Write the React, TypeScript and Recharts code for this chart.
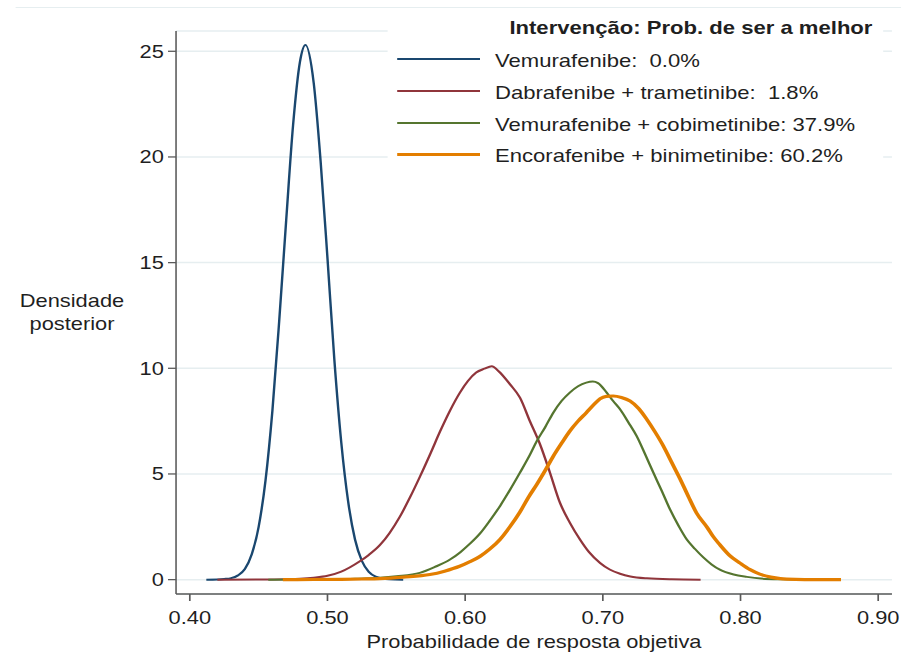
import { LineChart, Line, XAxis, YAxis, CartesianGrid, Legend } from "recharts";

// posterior density curves as [x, density]
const vemurafenibe = [
  [0.412, 0], [0.42, 0.01], [0.425, 0.03], [0.43, 0.07], [0.435, 0.2], [0.44, 0.5],
  [0.445, 1.2], [0.45, 2.5], [0.455, 4.7], [0.46, 8.0], [0.465, 12.3], [0.47, 17.0],
  [0.475, 21.5], [0.48, 24.5], [0.484, 25.3], [0.49, 23.5], [0.495, 19.8], [0.5, 15.2],
  [0.505, 10.4], [0.51, 6.5], [0.515, 3.7], [0.52, 1.9], [0.525, 0.88], [0.53, 0.37],
  [0.535, 0.14], [0.54, 0.05], [0.545, 0.015], [0.555, 0],
];

const dabrafenibe = [
  [0.42, 0], [0.45, 0.005], [0.47, 0.02], [0.48, 0.04], [0.49, 0.09], [0.5, 0.18],
  [0.51, 0.38], [0.5235, 0.87], [0.53, 1.17], [0.538, 1.63], [0.545, 2.2], [0.5526, 2.98],
  [0.56, 3.9], [0.5672, 4.88], [0.575, 6.0], [0.5817, 7.0], [0.589, 8.0], [0.5962, 8.85],
  [0.602, 9.4], [0.608, 9.8], [0.614, 9.98], [0.6193, 10.1], [0.6245, 9.85], [0.6326, 9.24],
  [0.6398, 8.61], [0.647, 7.5], [0.6544, 6.4], [0.6616, 5.06], [0.6689, 3.63], [0.676, 2.7],
  [0.6834, 1.9], [0.69, 1.3], [0.698, 0.79], [0.705, 0.48], [0.7125, 0.28], [0.72, 0.15],
  [0.732, 0.06], [0.75, 0.015], [0.771, 0],
];

const cobimetinibe = [
  [0.457, 0], [0.48, 0.005], [0.5, 0.015], [0.52, 0.04], [0.538, 0.09], [0.55, 0.16],
  [0.567, 0.32], [0.578, 0.6], [0.589, 0.95], [0.5965, 1.3], [0.6035, 1.7], [0.611, 2.2],
  [0.618, 2.8], [0.6255, 3.5], [0.6326, 4.25], [0.6398, 5.06], [0.647, 5.9], [0.652, 6.55],
  [0.658, 7.2], [0.664, 7.9], [0.67, 8.45], [0.676, 8.85], [0.682, 9.15], [0.688, 9.32],
  [0.6927, 9.37], [0.6965, 9.3], [0.7028, 8.85], [0.7075, 8.45], [0.7125, 8.06], [0.7185, 7.45],
  [0.7246, 6.79], [0.7306, 5.95], [0.7367, 5.06], [0.7428, 4.2], [0.7488, 3.32], [0.755, 2.55],
  [0.761, 1.9], [0.767, 1.45], [0.773, 1.05], [0.779, 0.72], [0.785, 0.47], [0.795, 0.24],
  [0.8046, 0.13], [0.815, 0.05], [0.829, 0.015], [0.85, 0], [0.865, 0],
];

const binimetinibe = [
  [0.4676, 0], [0.49, 0.005], [0.51, 0.015], [0.525, 0.03], [0.538, 0.05], [0.555, 0.12],
  [0.5744, 0.24], [0.585, 0.4], [0.596, 0.63], [0.6035, 0.85], [0.6108, 1.1], [0.618, 1.45],
  [0.6253, 1.9], [0.6325, 2.5], [0.6398, 3.2], [0.646, 3.9], [0.652, 4.5], [0.658, 5.15],
  [0.664, 5.84], [0.67, 6.45], [0.676, 7.03], [0.682, 7.5], [0.688, 7.9], [0.693, 8.25],
  [0.698, 8.56], [0.7025, 8.67], [0.7076, 8.69], [0.7135, 8.62], [0.7198, 8.45], [0.726, 8.1],
  [0.732, 7.58], [0.738, 6.98], [0.744, 6.32], [0.75, 5.55], [0.756, 4.78], [0.762, 3.95],
  [0.768, 3.16], [0.776, 2.45], [0.78, 2.05], [0.785, 1.65], [0.792, 1.15], [0.7997, 0.78],
  [0.807, 0.47], [0.814, 0.26], [0.822, 0.12], [0.829, 0.05], [0.84, 0.015], [0.855, 0.003],
  [0.873, 0],
];

const seriesNames = [
  "Vemurafenibe",
  "Dabrafenibe + trametinibe",
  "Vemurafenibe + cobimetinibe",
  "Encorafenibe + binimetinibe",
];
const probBest = ["0.0%", "1.8%", "37.9%", "60.2%"];
const colors = ["#1a476f", "#90353b", "#55752f", "#e37e00"];
const widths = [2, 2, 2, 3.2];

const xTicks = [0.4, 0.5, 0.6, 0.7, 0.8, 0.9];
const yTicks = [0, 5, 10, 15, 20, 25];

const FONT = '"Liberation Sans", Arial, Helvetica, sans-serif';
const TEXT = "#1f1f1f";
const AXIS = "#5a5a5a";
const GRID = "#e6eef0";
// the reference is stretched horizontally, so the chart is drawn narrow and scaled in x
const SX = 1.2;

const curves = [vemurafenibe, dabrafenibe, cobimetinibe, binimetinibe].map((pts) =>
  pts.map(([x, y]) => ({ x, y }))
);

function renderLegend(props: any) {
  const payload = props.payload || [];
  return (
    <div style={{ position: "relative", width: 413, height: 162, background: "#fff", fontFamily: FONT, color: TEXT }}>
      <div style={{ position: "absolute", left: 102, top: 9, fontSize: 18.4, lineHeight: "18px", fontWeight: "bold", whiteSpace: "pre" }}>
        Intervenção: Prob. de ser a melhor
      </div>
      {seriesNames.map((name, i) => {
        const item = payload.find((p: any) => p.value === name);
        const cy = 49.3 + 31.6 * i;
        return (
          <div key={name}>
            <div
              style={{
                position: "absolute",
                left: 8,
                width: 69,
                top: cy - widths[i] / 2,
                height: widths[i],
                background: item ? item.color : colors[i],
              }}
            />
            <div style={{ position: "absolute", left: 90, top: cy - 7, fontSize: 18.4, lineHeight: "18px", whiteSpace: "pre" }}>
              {`${name}: ${probBest[i].padStart(5)}`}
            </div>
          </div>
        );
      })}
    </div>
  );
}

function YTitle() {
  return (
    <text x={60} y={307} textAnchor="middle" fontSize={18.2} fill={TEXT} fontFamily={FONT}>
      <tspan x={60} y={307}>Densidade</tspan>
      <tspan x={60} y={330}>posterior</tspan>
    </text>
  );
}

export default function App() {
  return (
    <div style={{ position: "absolute", left: 0, top: 0, width: 901, height: 653, overflow: "hidden", background: "#fff" }}>
      <div style={{ position: "relative", width: 751, height: 653, transform: `scaleX(${SX})`, transformOrigin: "0 0" }}>
        <div style={{ position: "absolute", left: 13.3, top: 6.8, width: 740, height: 1.5, background: GRID }} />
        <LineChart
          width={751}
          height={653}
          margin={{ top: 31, right: 7.7, left: 0, bottom: 0 }}
          style={{ fontFamily: FONT }}
        >
          <CartesianGrid horizontal vertical={false} stroke={GRID} strokeWidth={1.5} />
          <XAxis
            dataKey="x"
            type="number"
            domain={[0.39, 0.91]}
            ticks={xTicks}
            allowDataOverflow
            tickFormatter={(v: number) => v.toFixed(2)}
            height={59}
            tickSize={7}
            tickMargin={10}
            stroke={AXIS}
            strokeWidth={1.4}
            tick={{ fontSize: 18.2, fill: TEXT, fontFamily: FONT }}
            label={{
              value: "Probabilidade de resposta objetiva",
              position: "insideBottom",
              offset: 5,
              fontSize: 18.2,
              fill: TEXT,
              fontFamily: FONT,
            }}
          />
          <YAxis
            type="number"
            domain={[-0.68, 25.96]}
            ticks={yTicks}
            allowDataOverflow
            width={146.7}
            tickSize={6.7}
            tickMargin={3.5}
            stroke={AXIS}
            strokeWidth={1.3}
            tick={{ fontSize: 18.2, fill: TEXT, fontFamily: FONT }}
            label={{ content: () => <YTitle /> }}
          />
          <Legend
            layout="vertical"
            align="center"
            verticalAlign="middle"
            content={renderLegend}
            wrapperStyle={{ left: 322.5, top: 10, width: 413, height: 162 }}
          />
          {curves.map((data, i) => (
            <Line
              key={seriesNames[i]}
              data={data}
              dataKey="y"
              name={seriesNames[i]}
              type="monotone"
              stroke={colors[i]}
              strokeWidth={widths[i]}
              dot={false}
              activeDot={false}
              isAnimationActive={false}
            />
          ))}
        </LineChart>
      </div>
    </div>
  );
}
